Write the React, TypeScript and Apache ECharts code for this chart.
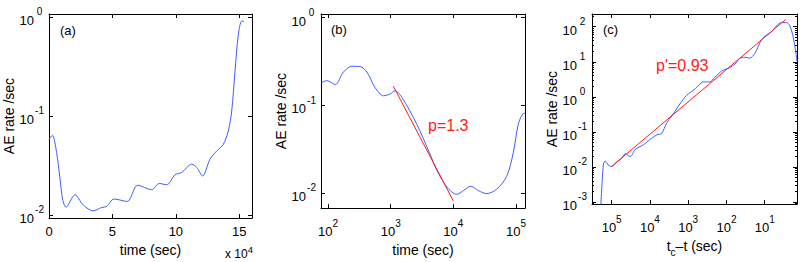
import React, { useEffect, useRef } from "react";
import * as echarts from "echarts";

// Panel (a): AE rate vs time (linear time)
const aTime = [0, 2600, 6000, 8700, 10800, 13400, 20500, 27000, 34900, 41500, 45500, 51200, 61700, 69900, 80900, 86900, 92700, 99300, 104600, 112500, 116400, 121100, 126900, 132200, 137400, 141300, 144000, 146600, 149200, 151900, 153700];
const aRate = [0.058, 0.0637, 0.0427, 0.023, 0.0143, 0.012, 0.016, 0.0126, 0.011, 0.0119, 0.0122, 0.0145, 0.0137, 0.02, 0.018, 0.0208, 0.0202, 0.0254, 0.0269, 0.0326, 0.0302, 0.0248, 0.0366, 0.0443, 0.0517, 0.0703, 0.112, 0.282, 0.659, 0.91, 0.896];

// Panel (b): AE rate vs time (log time) + Omori fit
const bTime = [77, 95, 130, 176, 240, 325, 416, 564, 766, 977, 1175, 1503, 2608, 4250, 5430, 7850, 11330, 14450, 18960, 25100, 34150, 49250, 71100, 90600, 108900, 127900, 139400];
const bRate = [0.179, 0.191, 0.172, 0.239, 0.278, 0.276, 0.239, 0.158, 0.128, 0.134, 0.146, 0.123, 0.0607, 0.0275, 0.0182, 0.0117, 0.0096, 0.0106, 0.0119, 0.0106, 0.0098, 0.011, 0.0154, 0.0287, 0.0607, 0.0794, 0.0813];
const bFitTime = [1100, 10000];
const bFitRate = [0.165, 0.0081];

// Panel (c): AE rate vs tc - t (log, reversed) + inverse Omori fit
const cTime = [193600, 165600, 149600, 122700, 100000, 74000, 54800, 43100, 36900, 31900, 24600, 14960, 10000, 6680, 4950, 3670, 2465, 1650, 1100, 668, 406, 271, 201, 134, 81.5, 60.4, 44.7, 33.1, 24.5, 18.1, 12.1, 9.36, 6.64, 4.63, 3.64, 2.7, 2.21, 1.81, 1.54, 1.43];
const cRate = [0.0007, 0.0113, 0.0148, 0.0113, 0.01026, 0.0139, 0.0177, 0.0245, 0.0208, 0.02, 0.0313, 0.0426, 0.0603, 0.0817, 0.0901, 0.177, 0.325, 0.625, 1.1, 1.66, 2.66, 2.66, 3.61, 5.4, 6.89, 8.48, 12.7, 13.5, 12.7, 17.2, 43, 56.4, 71.9, 114, 132, 132, 108, 53, 19.1, 10.4];
const cFitTime = [100000, 2.81];
const cFitRate = [0.0103, 162];

const panelLabels = ["(a)", "(b)", "(c)"];
const yName = "AE rate /sec";
const xNames = ["time (sec)", "time (sec)", "{n|t}{s|c}{n|\u2013t (sec)}"];
const pLabel = "p=1.3";
const pPrimeLabel = "p'=0.93";
const aTickStep = 50000;

const FONT = "'Liberation Sans', Arial, Helvetica, sans-serif";
const BLUE = "#3d5cff";
const RED = "#ff1a1a";

const pow10 = (v: number) => {
  const e = Math.log10(v);
  const r = Math.round(e);
  if (Math.abs(e - r) > 1e-6) return "";
  return `{b|10}{e|${r}}`;
};

const richY = {
  b: { fontSize: 13, lineHeight: 20, verticalAlign: "bottom", fontFamily: FONT, color: "#000" },
  e: { fontSize: 10, lineHeight: 10, verticalAlign: "top", width: 11, align: "left", fontFamily: FONT, color: "#000" },
};
const richX = {
  b: { fontSize: 13, lineHeight: 20, verticalAlign: "bottom", fontFamily: FONT, color: "#000" },
  e: { fontSize: 10, lineHeight: 10, verticalAlign: "top", fontFamily: FONT, color: "#000" },
};

const axisLine = { show: true, onZero: false, lineStyle: { color: "#000", width: 1 } };
const axisTick = { show: true, inside: true, length: 4, lineStyle: { color: "#000", width: 1 } };

const grids = [
  { left: 49, top: 14, width: 203, height: 205 },
  { left: 321, top: 14, width: 204, height: 204 },
  { left: 592, top: 14, width: 205, height: 205 },
];

function mirrorX(gridIndex: number, base: any) {
  return { ...base, gridIndex, position: "top", name: "", axisLabel: { show: false } };
}
function mirrorY(gridIndex: number, base: any) {
  return { ...base, gridIndex, position: "right", name: "", axisLabel: { show: false } };
}

const nameStyle = { fontSize: 14, fontFamily: FONT, color: "#000", fontWeight: "normal" };

const xA: any = {
  type: "value", gridIndex: 0, position: "bottom", min: 0, max: 160000, interval: aTickStep,
  axisLine, axisTick, splitLine: { show: false },
  axisLabel: {
    margin: 7, fontSize: 13, fontFamily: FONT, color: "#000",
    formatter: (v: number) => (v % aTickStep === 0 ? String(v / 10000) : ""),
  },
  name: xNames[0], nameLocation: "middle", nameGap: 22, nameTextStyle: nameStyle,
};
const xB: any = {
  type: "log", logBase: 10, gridIndex: 1, position: "bottom", min: 77, max: 139400,
  axisLine, axisTick, splitLine: { show: false },
  axisLabel: { margin: 10, formatter: pow10, rich: richX },
  name: xNames[1], nameLocation: "middle", nameGap: 25, nameTextStyle: nameStyle,
};
const xC: any = {
  type: "log", logBase: 10, gridIndex: 2, position: "bottom", min: 1.43, max: 327000, inverse: true,
  axisLine, axisTick, splitLine: { show: false },
  axisLabel: { margin: 10, formatter: pow10, rich: richX },
  name: xNames[2], nameLocation: "middle", nameGap: 23,
  nameTextStyle: {
    ...nameStyle,
    rich: {
      n: { fontSize: 14, fontFamily: FONT, color: "#000", lineHeight: 18, verticalAlign: "top" },
      s: { fontSize: 10, fontFamily: FONT, color: "#000", lineHeight: 10, verticalAlign: "bottom" },
    },
  },
};

const mkY = (gridIndex: number, min: number, max: number, minor: boolean): any => ({
  type: "log", logBase: 10, gridIndex, position: "left", min, max,
  axisLine, axisTick, splitLine: { show: false },
  minorTick: minor ? { show: true, splitNumber: 9, length: 2, lineStyle: { color: "#000", width: 1 } } : { show: false },
  axisLabel: { margin: 4, align: "right", formatter: pow10, rich: richY },
  name: yName, nameLocation: "middle", nameGap: 29, nameRotate: 90, nameTextStyle: nameStyle,
});
const yA = mkY(0, 0.0093, 1.07, false);
const yB = mkY(1, 0.0067, 1.097, false);
const yC = { ...mkY(2, 0.00087, 231, true), nameGap: 31 };

const pairs = (xs: number[], ys: number[]) => xs.map((x, i) => [x, ys[i]]);

const lineSeries = (xi: number, data: number[][], color: string, smooth: number) => ({
  type: "line", xAxisIndex: xi, yAxisIndex: xi, data, showSymbol: false, symbol: "none",
  smooth, clip: true, lineStyle: { color, width: 1 }, silent: true,
});

const option: any = {
  animation: false,
  backgroundColor: "#fff",
  grid: grids,
  xAxis: [xA, mirrorX(0, xA), xB, mirrorX(1, xB), xC, mirrorX(2, xC)],
  yAxis: [yA, mirrorY(0, yA), yB, mirrorY(1, yB), yC, mirrorY(2, yC)],
  series: [
    lineSeries(0, pairs(aTime, aRate), BLUE, 0.3),
    lineSeries(2, pairs(bTime, bRate), BLUE, 0.3),
    lineSeries(2, pairs(bFitTime, bFitRate), RED, 0),
    lineSeries(4, pairs(cTime, cRate), BLUE, 0.25),
    lineSeries(4, pairs(cFitTime, cFitRate), RED, 0),
  ],
  graphic: [
    { type: "text", x: 60, y: 30, style: { text: panelLabels[0], font: `13px ${FONT}`, fill: "#000", verticalAlign: "middle" } },
    { type: "text", x: 331, y: 29, style: { text: panelLabels[1], font: `13px ${FONT}`, fill: "#000", verticalAlign: "middle" } },
    { type: "text", x: 603, y: 29, style: { text: panelLabels[2], font: `13px ${FONT}`, fill: "#000", verticalAlign: "middle" } },
    { type: "text", x: 428, y: 125, style: { text: pLabel, font: `16px ${FONT}`, fill: RED, verticalAlign: "middle" } },
    { type: "text", x: 656, y: 65, style: { text: pPrimeLabel, font: `16px ${FONT}`, fill: RED, verticalAlign: "middle" } },
    {
      type: "text", x: 225, y: 252,
      style: {
        text: "{b|x 10}{e|4}", verticalAlign: "middle",
        rich: {
          b: { fontSize: 12, lineHeight: 16, verticalAlign: "bottom", fontFamily: FONT, fill: "#000" },
          e: { fontSize: 9.5, lineHeight: 9, verticalAlign: "top", fontFamily: FONT, fill: "#000" },
        },
      },
    },
  ],
};

export default function App() {
  const ref = useRef<HTMLDivElement>(null);
  useEffect(() => {
    document.body.style.margin = "0";
    const chart = echarts.init(ref.current!, null, { renderer: "svg" });
    chart.setOption(option);
    return () => chart.dispose();
  }, []);
  return <div ref={ref} style={{ width: 802, height: 262 }} />;
}
